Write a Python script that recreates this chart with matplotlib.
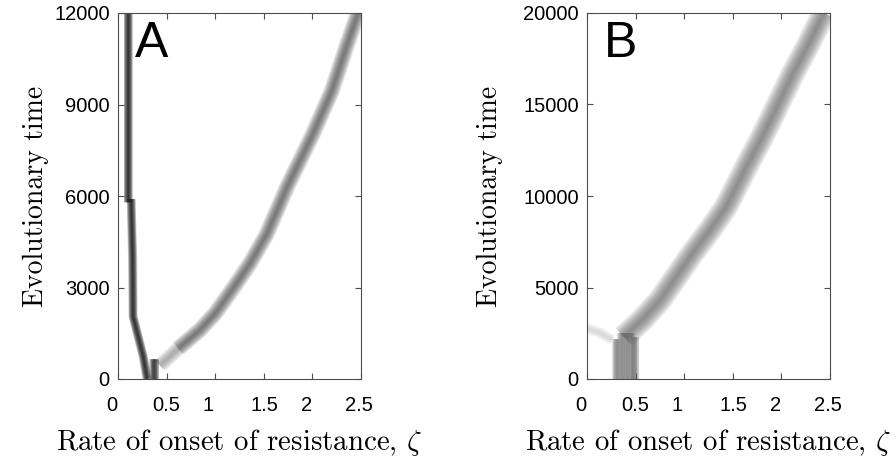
import matplotlib
matplotlib.use("Agg")
import matplotlib.pyplot as plt
from matplotlib.transforms import ScaledTranslation

# ---------------- data ----------------
xticks = [0, 0.5, 1, 1.5, 2, 2.5]
xtick_labels = ["0", "0.5", "1", "1.5", "2", "2.5"]
xtick_label_dx = [-6, 0, -7, 1, -6, -2]   # pixel shift of the tick labels
yticks_A = [0, 3000, 6000, 9000, 12000]
yticks_B = [0, 5000, 10000, 15000, 20000]

# Panel A: branch that stays near low zeta (upper and lower part)
A_top_x = [0.10, 0.10]
A_top_t = [12000, 5800]
A_low_x = [0.135, 0.15, 0.155, 0.26, 0.30]
A_low_t = [5900, 4000, 2050, 730, 0]
# Panel A: dark blob at the bottom
A_blob_x = [0.37, 0.37]
A_blob_t = [0, 650]
# Panel A: faint start of the rising branch
A_start_x = [0.43, 0.52, 0.62]
A_start_t = [450, 700, 1000]
# Panel A: rising branch
A_right_x = [0.62, 0.84, 1.0, 1.19, 1.36, 1.53, 1.74, 2.0, 2.2, 2.35, 2.47]
A_right_t = [1000, 1600, 2150, 3000, 3800, 4750, 6300, 8000, 9450, 10900, 12000]

# Panel B: faint branch at left
B_faint_x = [0.0, 0.12, 0.26]
B_faint_t = [2750, 2550, 2150]
# Panel B: vertical column at the bottom
B_col_x = [0.30, 0.35, 0.40, 0.45, 0.49]
B_col_top = [2200, 2500, 2500, 2500, 2300]
# Panel B: rising branch
B_right_x = [0.38, 0.58, 0.75, 0.92, 1.09, 1.26, 1.43, 1.64, 1.78, 1.92,
             2.12, 2.27, 2.40, 2.44]
B_right_t = [2300, 3300, 4300, 5600, 6900, 8100, 9400, 11600, 13000, 14500,
             16700, 18200, 19600, 20000]

plt.rcParams["mathtext.fontset"] = "cm"
TICKFONT = "Liberation Sans"
LABELFONT = "cmr10"


def band(ax, x, t, width, color, n=16, a=0.08):
    for k in range(n):
        w = width * (1 - k / n)
        ax.plot(x, t, color=color, lw=w, alpha=a, solid_capstyle="butt",
                solid_joinstyle="round")


fig = plt.figure(figsize=(8.96, 4.59), dpi=100)
axA = fig.add_axes([118 / 896, 80 / 459, 243 / 896, 366 / 459])
axB = fig.add_axes([587 / 896, 80 / 459, 243 / 896, 366 / 459])

# Panel A
band(axA, A_start_x, A_start_t, 11, "0.55", n=12, a=0.09)
band(axA, A_right_x, A_right_t, 12, "0.3", n=16, a=0.08)
band(axA, A_top_x, A_top_t, 6.5, "0.1", n=8, a=0.22)
band(axA, A_low_x, A_low_t, 6.5, "0.1", n=8, a=0.22)
band(axA, A_blob_x, A_blob_t, 7, "0.15", n=8, a=0.22)

# Panel B
band(axB, B_faint_x, B_faint_t, 8, "0.78", n=8, a=0.12)
for cx, top in zip(B_col_x, B_col_top):
    band(axB, [cx, cx], [0, top], 6, "0.35", n=6, a=0.16)
band(axB, B_right_x, B_right_t, 18, "0.4", n=16, a=0.075)

for ax, yt, ymax, letter, ylx in [(axA, yticks_A, 12000, "A", -0.34),
                                  (axB, yticks_B, 20000, "B", -0.40)]:
    ax.set_xlim(0, 2.5)
    ax.set_ylim(0, ymax)
    ax.set_xticks(xticks)
    ax.set_xticklabels(xtick_labels)
    ax.set_yticks(yt)
    ax.set_yticklabels([str(v) for v in yt])
    ax.tick_params(direction="in", length=4, width=0.8, color="0.3",
                   top=True, right=True, labelsize=14.5)
    ax.tick_params(axis="x", pad=12)
    ax.tick_params(axis="y", pad=6)
    for lab in ax.get_xticklabels() + ax.get_yticklabels():
        lab.set_fontfamily(TICKFONT)
    for lab, dx in zip(ax.get_xticklabels(), xtick_label_dx):
        lab.set_transform(lab.get_transform() +
                          ScaledTranslation(dx / 100, 0, fig.dpi_scale_trans))
    for sp in ax.spines.values():
        sp.set_color("0.3")
        sp.set_linewidth(0.8)
    ax.set_xlabel(r"Rate of onset of resistance, $\zeta$", fontsize=20.8,
                  fontfamily=LABELFONT, labelpad=9)
    ax.set_ylabel("Evolutionary time", fontsize=20, fontfamily=LABELFONT,
                  va="center")
    ax.yaxis.set_label_coords(ylx, 0.5)
    ax.text(0.07, 0.88, letter, transform=ax.transAxes, fontsize=36,
            fontfamily=TICKFONT, ha="left", va="baseline")

fig.savefig("out.png", dpi=100)
